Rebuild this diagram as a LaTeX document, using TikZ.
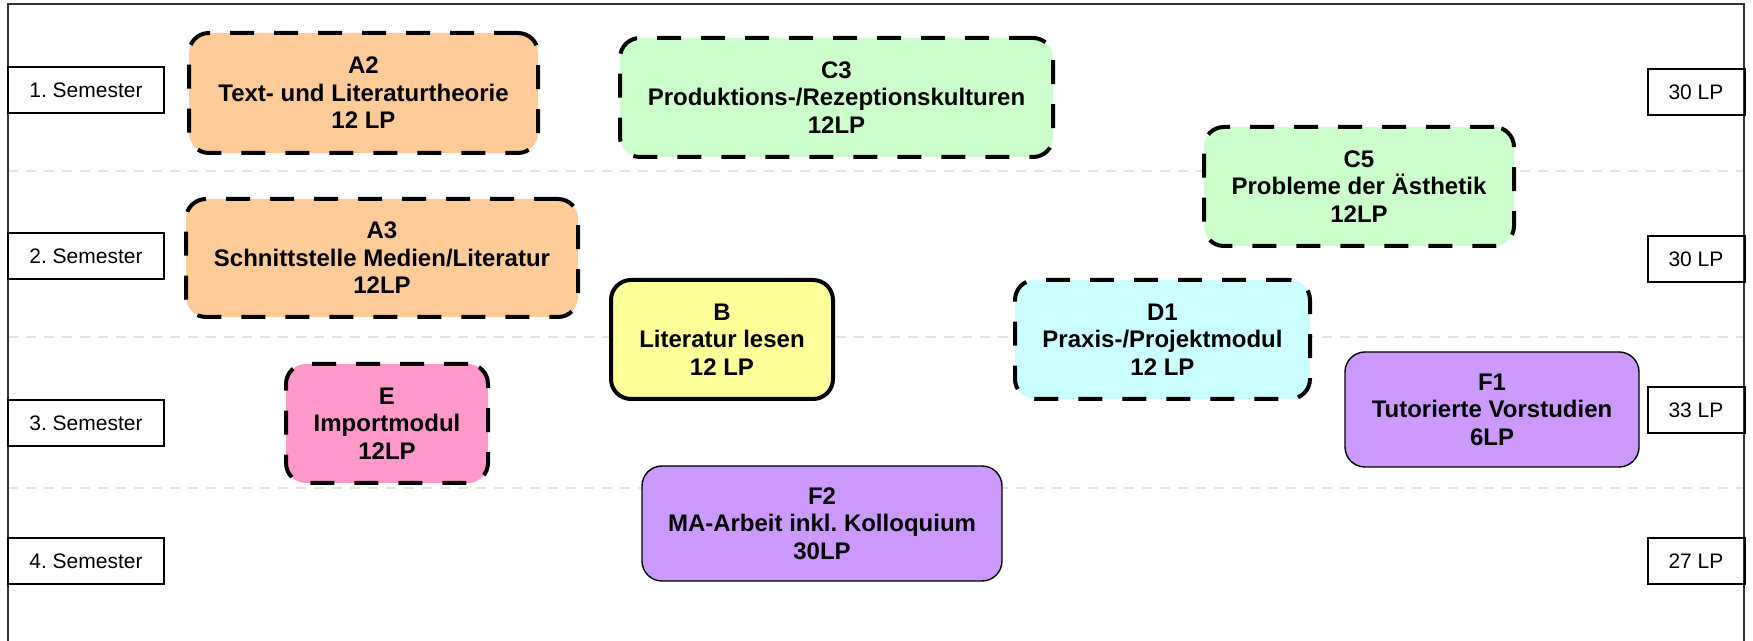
\documentclass[tikz,border=0pt]{standalone}
\usepackage{fontspec}
\setmainfont{Liberation Sans}
\frenchspacing

\definecolor{orangeA}{HTML}{FFCC99}
\definecolor{greenC}{HTML}{CCFFCC}
\definecolor{yellowB}{HTML}{FFFF99}
\definecolor{cyanD}{HTML}{CCFFFF}
\definecolor{pinkE}{HTML}{FF99CC}
\definecolor{purpleF}{HTML}{CC99FF}
\definecolor{sepgray}{HTML}{E4E4D8}

\tikzset{
  modul/.style={rectangle, rounded corners=10pt, inner sep=0pt, outer sep=0pt,
    align=center, font=\fontsize{12}{13.75}\selectfont\bfseries},
  wahl/.style={modul, draw=black, line width=2pt, dash pattern=on 12pt off 10pt},
  pflicht/.style={modul, draw=black, line width=2pt},
  abschluss/.style={modul, draw=black, line width=0.7pt},
  semlabel/.style={rectangle, draw=black, line width=1pt, inner sep=0pt, outer sep=0pt,
    minimum width=78pt, minimum height=23pt, font=\fontsize{10.5}{12.6}\selectfont},
  lplabel/.style={semlabel, minimum width=48.5pt},
  trenner/.style={draw=sepgray, line width=0.6pt, dash pattern=on 5pt off 4pt}
}

\begin{document}
\begin{tikzpicture}[x=0.5pt, y=-0.5pt]
  \useasboundingbox (0,0) rectangle (1753,641);

  %% semester lines
  \draw[trenner](8, 171) to (1744, 171);
  \draw[trenner](8, 337) to (1744, 337);
  \draw[trenner](8, 488) to (1744, 488);

  %% frame
  \draw[line width=1pt, black!80](7.7, 641) to (7.7, 4) to (1744, 4) to (1744, 641);

  %% left: semesters
  \node[semlabel] (sem1) at (86, 90) {1. Semester};
  \node[semlabel] (sem2) at (86, 256.5) {2. Semester};
  \node[semlabel] (sem3) at (86, 423.5) {3. Semester};
  \node[semlabel] (sem4) at (86, 561) {4. Semester};

  %% right: credit points
  \node[lplabel] (lp1) at (1696, 92) {30 LP};
  \node[lplabel] (lp2) at (1696, 259) {30 LP};
  \node[lplabel] (lp3) at (1696, 410) {33 LP};
  \node[lplabel] (lp4) at (1696, 561) {27 LP};

  %% A modules
  \node[wahl, fill=orangeA, minimum width=174.5pt, minimum height=60pt] (a2) at (363.5, 93)
    {A2\\Text- und Literaturtheorie\\12 LP};
  \node[wahl, fill=orangeA, minimum width=196pt, minimum height=59pt] (a3) at (382, 258)
    {A3\\Schnittstelle Medien/Literatur\\12LP};

  %% C modules
  \node[wahl, fill=greenC, minimum width=216.5pt, minimum height=59.5pt] (c3) at (836.5, 97.5)
    {C3\\Produktions-/Rezeptionskulturen\\12LP};
  \node[wahl, fill=greenC, minimum width=155pt, minimum height=59.5pt] (c5) at (1359, 186.5)
    {C5\\Probleme der Ästhetik\\12LP};

  %% B, D, E
  \node[pflicht, fill=yellowB, minimum width=111pt, minimum height=59.5pt] (b) at (722, 339.5)
    {B\\Literatur lesen\\12 LP};
  \node[wahl, fill=cyanD, minimum width=147.5pt, minimum height=59.5pt] (d1) at (1162.5, 339.5)
    {D1\\Praxis-/Projektmodul\\12 LP};
  \node[wahl, fill=pinkE, minimum width=101pt, minimum height=59.5pt] (e) at (387, 423.5)
    {E\\Importmodul\\12LP};

  %% F modules
  \node[abschluss, fill=purpleF, minimum width=147pt, minimum height=57.5pt] (f1) at (1492, 409.5)
    {F1\\Tutorierte Vorstudien\\6LP};
  \node[abschluss, fill=purpleF, minimum width=180pt, minimum height=57.5pt] (f2) at (822, 523.5)
    {F2\\MA-Arbeit inkl. Kolloquium\\30LP};
\end{tikzpicture}
\end{document}
